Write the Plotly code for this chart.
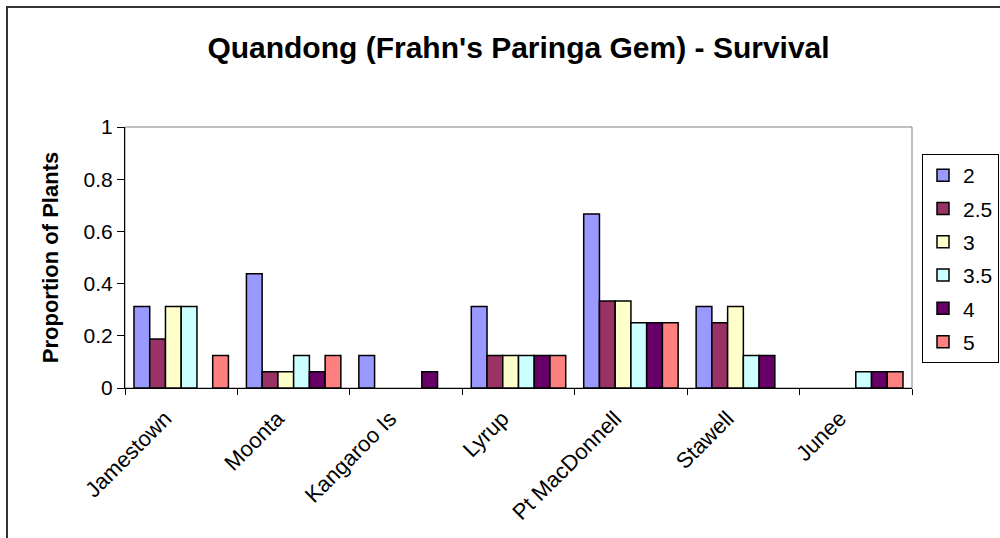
import plotly.graph_objects as go

sites = ["Jamestown", "Moonta", "Kangaroo Is", "Lyrup", "Pt MacDonnell", "Stawell", "Junee"]
s2 = [0.3125, 0.4375, 0.125, 0.3125, 0.6667, 0.3125, 0.0]
s25 = [0.1875, 0.0625, 0.0, 0.125, 0.3333, 0.25, 0.0]
s3 = [0.3125, 0.0625, 0.0, 0.125, 0.3333, 0.3125, 0.0]
s35 = [0.3125, 0.125, 0.0, 0.125, 0.25, 0.125, 0.0625]
s4 = [0.0, 0.0625, 0.0625, 0.125, 0.25, 0.125, 0.0625]
s5 = [0.125, 0.125, 0.0, 0.125, 0.25, 0.0, 0.0625]
series_names = ["2", "2.5", "3", "3.5", "4", "5"]
series_vals = [s2, s25, s3, s35, s4, s5]
colors = ["#9999FF", "#993366", "#FFFFCC", "#CCFFFF", "#660066", "#FF8080"]
y_ticks = [0, 0.2, 0.4, 0.6, 0.8, 1]
y_ticktext = ["0", "0.2", "0.4", "0.6", "0.8", "1"]

FONT = "Arial, Liberation Sans, sans-serif"

fig = go.Figure()
for n, v, c in zip(series_names, series_vals, colors):
    # zero-height bars are not drawn in the original
    fig.add_trace(go.Bar(x=sites, y=[val if val > 0 else None for val in v], name=n,
                         legendgroup=n,
                         marker=dict(color=c, line=dict(color="black", width=1.5))))

L, R, T, B = 125, 88, 127, 150
W, H = 1000, 538
pw = W - L - R
ph = H - T - B

def px(x):
    return (x - L) / pw

def py(y):
    return (H - B - y) / ph

fig.update_layout(
    width=W, height=H,
    margin=dict(l=L, r=R, t=T, b=B),
    paper_bgcolor="white", plot_bgcolor="white",
    bargap=0.16, bargroupgap=0,
    font=dict(family=FONT, color="black", size=21),
    title=dict(text="<b>Quandong (Frahn's Paringa Gem) - Survival</b>",
               x=0.5, xref="paper", xanchor="center",
               y=1 - 47 / H, yref="container", yanchor="middle",
               font=dict(size=30, family=FONT, color="black")),
    legend=dict(xref="container", yref="container",
                x=999 / W, y=1 - 154 / H, xanchor="right", yanchor="top",
                bordercolor="black", borderwidth=1, bgcolor="white",
                font=dict(size=21, family=FONT), itemwidth=30,
                tracegroupgap=3),
    showlegend=True,
    xaxis=dict(type="category", tickson="boundaries", ticks="outside",
               ticklen=6, tickcolor="black", showline=True, linecolor="black",
               linewidth=1, tickangle=-45, tickfont=dict(size=22),
               ticklabelstandoff=8, ticklabelshift=-16,
               showgrid=False, zeroline=False, automargin=False),
    yaxis=dict(range=[0, 1], tickvals=y_ticks, ticktext=y_ticktext,
               ticks="outside", ticklen=7, tickcolor="black", showline=True,
               linecolor="black", linewidth=1, showgrid=False, zeroline=False,
               tickfont=dict(size=21), automargin=False,
               title=dict(text="<b>Proportion of Plants</b>", font=dict(size=22), standoff=18)),
    shapes=[
        dict(type="rect", xref="paper", yref="paper", x0=0, x1=1, y0=0, y1=1,
             line=dict(color="#808080", width=1), layer="below"),
        dict(type="rect", xref="paper", yref="paper", x0=px(7), x1=px(1010),
             y0=py(548), y1=py(7), line=dict(color="#333333", width=2), layer="below"),
    ],
)

fig.write_html("out.html", config={"displayModeBar": False},
               post_script="document.body.style.margin='0px';")
